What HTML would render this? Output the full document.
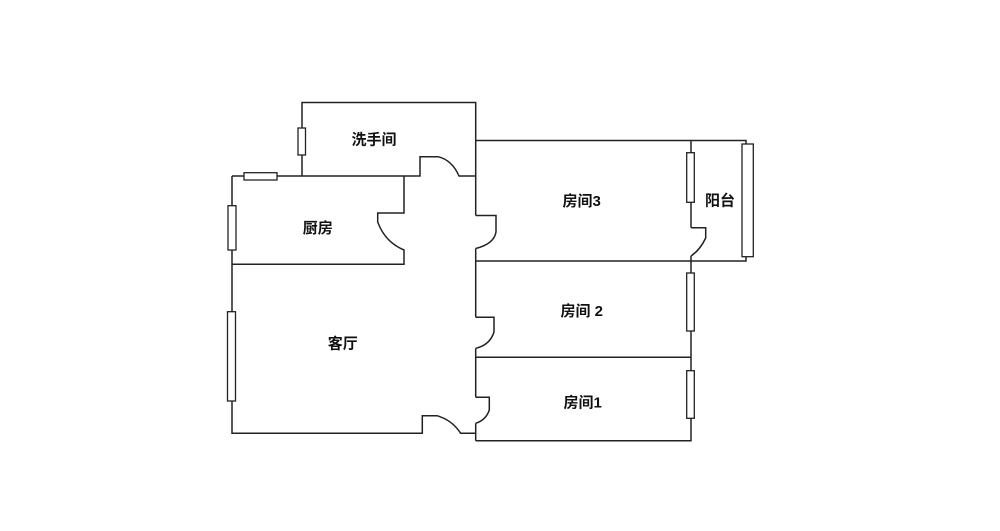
<!DOCTYPE html>
<html><head><meta charset="utf-8"><style>
html,body{margin:0;padding:0;background:#fff;width:1000px;height:531px;overflow:hidden}
svg text{font-family:"Liberation Sans","Noto Sans CJK SC",sans-serif;font-weight:bold;font-size:15px;fill:#111}
</style></head><body>
<svg width="1000" height="531" viewBox="0 0 1000 531" xmlns="http://www.w3.org/2000/svg">
<g fill="none" stroke="#222" stroke-width="1.5">
<!-- washroom -->
<path d="M302,176 L302,102.5 L475.7,102.5 L475.7,215.5"/>
<path d="M475.7,248.5 L475.7,317.3"/>
<path d="M475.7,348.3 L475.7,397.3"/>
<path d="M475.7,423.3 L475.7,440.7"/>
<!-- kitchen top & washroom door -->
<path d="M232,176 L420,176 L420,156.7 L438,156.7 Q452,160 459,176 L475.7,176"/>
<!-- kitchen right wall & door -->
<path d="M404,176 L404,213 L377.7,213 L377.7,222 Q385,242 404,250 L404,264.3 L232,264.3"/>
<!-- living left wall & bottom -->
<path d="M232,176 L232,433.3 L422.3,433.3 L422.3,415.7 L437,415.7 Q452,420 460.7,433.3 L475.7,433.3"/>
<!-- room3 -->
<path d="M475.7,140.5 L746,140.5 L746,261 L475.7,261"/>
<path d="M475.7,215.5 L496,215.5 L496,232 Q494,244 475.7,248.5"/>
<path d="M691,140.5 L691,227.7"/>
<path d="M691,256 L691,440.7 L475.7,440.7"/>
<path d="M691,227.7 L705.7,227.7 L705.7,238 Q700,250 691,256"/>
<!-- room2 -->
<path d="M475.7,317.3 L494,317.3 L494,332 Q490,345 475.7,348.3"/>
<path d="M475.7,357.3 L691,357.3"/>
<!-- room1 -->
<path d="M475.7,397.3 L489.3,397.3 L489.3,410 Q486,420 475.7,423.3"/>
</g>
<!-- windows -->
<g fill="#fff" stroke="#222" stroke-width="1.3">
<rect x="298" y="128" width="7.5" height="27"/>
<rect x="244" y="172.7" width="33" height="7.3"/>
<rect x="228" y="205.7" width="8" height="44.3"/>
<rect x="227.5" y="311.7" width="8" height="89.3"/>
<rect x="686.7" y="152.7" width="7.6" height="49.6"/>
<rect x="742" y="144" width="11.3" height="112.7"/>
<rect x="686.7" y="273" width="7.6" height="58"/>
<rect x="686.7" y="370.7" width="7.6" height="47.6"/>
</g>
<g text-anchor="middle">
<text x="374" y="144.5">洗手间</text>
<text x="317.7" y="233">厨房</text>
<text x="342.7" y="348.5">客厅</text>
<text x="581.7" y="206">房间3</text>
<text x="720" y="205.5">阳台</text>
<text x="581.7" y="316">房间 2</text>
<text x="582.7" y="407.5">房间1</text>
</g>
</svg>
</body></html>
